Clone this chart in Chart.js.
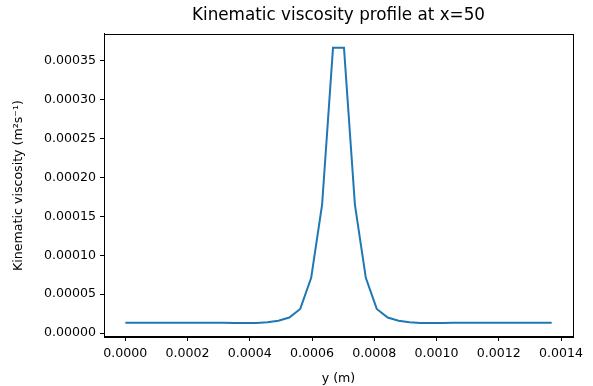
<!DOCTYPE html>
<html>
<head>
<meta charset="utf-8">
<script src="https://cdn.jsdelivr.net/npm/chart.js@4/dist/chart.umd.min.js"></script>
<style>
    body { margin: 0; background: #fff; }
    canvas { display: block; }
</style>
</head>
<body>
<canvas id="viscChart" width="593" height="386"></canvas>
<script>
// Kinematic viscosity profile at x=50

// wall-normal position y (m)
const yPositions = [
    0, 0.0000351, 0.0000703, 0.0001054, 0.0001405, 0.0001756, 0.0002108, 0.0002459,
    0.0002810, 0.0003162, 0.0003513, 0.0003864, 0.0004215, 0.0004567, 0.0004918, 0.0005269,
    0.0005620, 0.0005972, 0.0006323, 0.0006674, 0.0007026, 0.0007377, 0.0007728, 0.0008079,
    0.0008431, 0.0008782, 0.0009133, 0.0009485, 0.0009836, 0.0010187, 0.0010538, 0.0010890,
    0.0011241, 0.0011592, 0.0011944, 0.0012295, 0.0012646, 0.0012997, 0.0013349, 0.0013700
];

// kinematic viscosity (m^2 s^-1)
const viscosity = [
    1.32e-5, 1.32e-5, 1.32e-5, 1.32e-5, 1.32e-5, 1.32e-5, 1.32e-5, 1.32e-5,
    1.32e-5, 1.31e-5, 1.29e-5, 1.28e-5, 1.30e-5, 1.38e-5, 1.58e-5, 2.00e-5,
    3.10e-5, 7.10e-5, 1.65e-4, 3.67e-4, 3.67e-4, 1.65e-4, 7.10e-5, 3.10e-5,
    2.00e-5, 1.58e-5, 1.38e-5, 1.30e-5, 1.28e-5, 1.29e-5, 1.31e-5, 1.32e-5,
    1.32e-5, 1.32e-5, 1.32e-5, 1.32e-5, 1.32e-5, 1.32e-5, 1.32e-5, 1.32e-5
];

// tick labels
const xTicks = [0, 0.0002, 0.0004, 0.0006, 0.0008, 0.0010, 0.0012, 0.0014];
const yTicks = [0, 0.00005, 0.00010, 0.00015, 0.00020, 0.00025, 0.00030, 0.00035];

const FONT = 'DejaVu Sans';

// draws the top/right spines so the axes get a full box
const frameBox = {
    id: 'frameBox',
    afterDraw(chart) {
        const { ctx, chartArea: a } = chart;
        ctx.save();
        ctx.strokeStyle = '#000';
        ctx.lineWidth = 1;
        ctx.strokeRect(Math.round(a.left) + 0.5, Math.round(a.top) + 0.5,
            Math.round(a.right - a.left), Math.round(a.bottom - a.top));
        ctx.restore();
    }
};

const points = yPositions.map((x, i) => ({ x: x, y: viscosity[i] }));

new Chart(document.getElementById('viscChart').getContext('2d'), {
    type: 'line',
    data: {
        datasets: [{
            data: points,
            borderColor: '#1f77b4',
            borderWidth: 2,
            pointRadius: 0,
            tension: 0,
            fill: false
        }]
    },
    options: {
        responsive: false,
        animation: false,
        layout: { padding: { left: 0, right: 20, top: 0, bottom: 0 } },
        plugins: {
            legend: { display: false },
            tooltip: { enabled: false },
            title: {
                display: true,
                fullSize: false,
                text: 'Kinematic viscosity profile at x=50',
                color: '#000',
                font: { family: FONT, size: 16.8, weight: 'normal' },
                padding: { top: 6, bottom: 7.8 }
            }
        },
        scales: {
            x: {
                type: 'linear',
                min: -0.0000685,
                max: 0.0014385,
                afterBuildTicks: s => { s.ticks = xTicks.map(v => ({ value: v })); },
                afterFit: s => { s.height = 49; },
                ticks: {
                    color: '#000',
                    padding: 5,
                    maxRotation: 0,
                    font: { family: FONT, size: 12.6 },
                    callback: v => v.toFixed(4)
                },
                grid: { drawOnChartArea: false, drawTicks: true, tickLength: 4, color: '#000' },
                border: { display: true, color: '#000' },
                title: {
                    display: true,
                    text: 'y (m)',
                    color: '#000',
                    font: { family: FONT, size: 12.6 },
                    padding: { top: 0, bottom: 0 }
                }
            },
            y: {
                type: 'linear',
                min: -0.0000051,
                max: 0.0003847,
                afterBuildTicks: s => { s.ticks = yTicks.map(v => ({ value: v })); },
                afterFit: s => { s.width = 104; },
                ticks: {
                    color: '#000',
                    padding: 4,
                    font: { family: FONT, size: 12.6 },
                    callback: v => v.toFixed(5)
                },
                grid: { drawOnChartArea: false, drawTicks: true, tickLength: 4, color: '#000' },
                border: { display: true, color: '#000' },
                title: {
                    display: true,
                    text: 'Kinematic viscosity (m²s⁻¹)',
                    color: '#000',
                    font: { family: FONT, size: 12.6 },
                    padding: { top: 11, bottom: 0 }
                }
            }
        }
    },
    plugins: [frameBox]
});
</script>
</body>
</html>
